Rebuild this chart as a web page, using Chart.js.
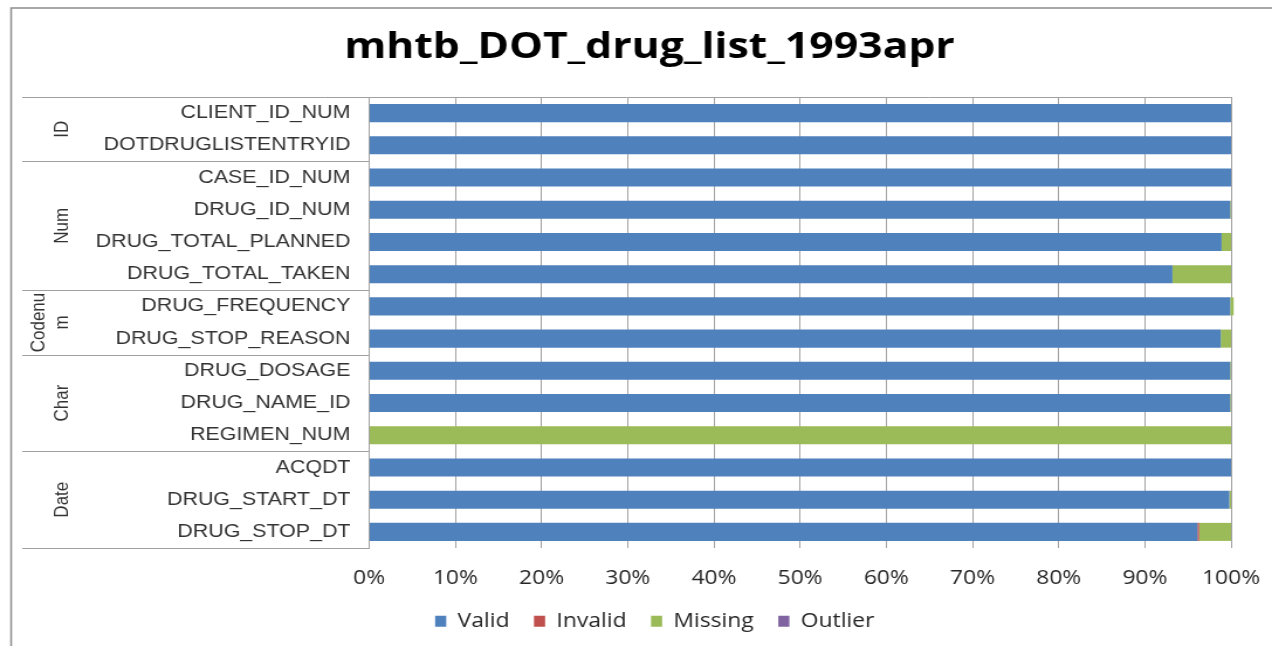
<!DOCTYPE html>
<html>
<head>
<meta charset="utf-8">
<script src="https://cdn.jsdelivr.net/npm/chart.js@4/dist/chart.umd.min.js"></script>
<style>
  html, body { margin: 0; padding: 0; background: #fff; overflow: hidden; }
  #wrap { width: 1272px; height: 646px; overflow: hidden; }
  /* the original export is stretched horizontally, so draw narrow and stretch */
  #qualityChart { transform: scaleX(1.1702); transform-origin: 0 0; }
</style>
</head>
<body>
<div id="wrap"><canvas id="qualityChart" width="1087" height="646"></canvas></div>
<script>
const chartTitle = 'mhtb_DOT_drug_list_1993apr';
const categories = ['CLIENT_ID_NUM', 'DOTDRUGLISTENTRYID', 'CASE_ID_NUM', 'DRUG_ID_NUM',
    'DRUG_TOTAL_PLANNED', 'DRUG_TOTAL_TAKEN', 'DRUG_FREQUENCY', 'DRUG_STOP_REASON',
    'DRUG_DOSAGE', 'DRUG_NAME_ID', 'REGIMEN_NUM', 'ACQDT', 'DRUG_START_DT', 'DRUG_STOP_DT'];
const groupNames = [['ID'], ['Num'], ['Codenu', 'm'], ['Char'], ['Date']];
const groupSizes = [2, 4, 2, 3, 3];

const validPct   = [100, 100, 100, 99.9, 98.9, 93.2, 99.9, 98.8, 99.9, 99.9, 0, 100, 99.8, 96.1];
const invalidPct = [0, 0, 0, 0, 0, 0, 0, 0, 0, 0, 0, 0, 0, 0.2];
const missingPct = [0, 0, 0, 0.1, 1.1, 6.8, 0.4, 1.2, 0.1, 0.1, 100, 0, 0.2, 3.7];
const outlierPct = [0, 0, 0, 0, 0, 0, 0, 0, 0, 0, 0, 0, 0, 0];
const xTicks = [0, 10, 20, 30, 40, 50, 60, 70, 80, 90, 100];

const lineColor = '#a0a0a0';

// draws the frame, the title, the grouped category boxes and the rotated group names
const groupAxis = {
    id: 'groupAxis',
    afterDraw(chart) {
        const ctx = chart.ctx;
        const area = chart.chartArea;
        const yScale = chart.scales.y;
        const boxLeft = 19;
        ctx.save();

        ctx.strokeStyle = '#8c8c8c';
        ctx.lineWidth = 1.5;
        ctx.beginPath();
        ctx.moveTo(9.5, chart.height);
        ctx.lineTo(9.5, 8);
        ctx.lineTo(chart.width, 8);
        ctx.stroke();

        ctx.fillStyle = '#000';
        ctx.font = 'bold 36.5px "Open Sans", Lato, sans-serif';
        ctx.textAlign = 'center';
        ctx.textBaseline = 'middle';
        ctx.fillText(chartTitle, 555, 48);

        ctx.strokeStyle = lineColor;
        ctx.lineWidth = 1;
        ctx.beginPath();
        ctx.moveTo(boxLeft, Math.round(area.top) + 0.5);
        ctx.lineTo(area.right, Math.round(area.top) + 0.5);
        ctx.stroke();

        let start = 0;
        groupSizes.forEach((size, g) => {
            const end = start + size;
            const top = start === 0 ? area.top
                : (yScale.getPixelForValue(start - 1) + yScale.getPixelForValue(start)) / 2;
            const bottom = end === categories.length ? area.bottom
                : (yScale.getPixelForValue(end - 1) + yScale.getPixelForValue(end)) / 2;
            ctx.beginPath();
            ctx.moveTo(boxLeft, Math.round(bottom) + 0.5);
            ctx.lineTo(area.left, Math.round(bottom) + 0.5);
            ctx.stroke();

            const lines = groupNames[g];
            ctx.save();
            ctx.translate(58, (top + bottom) / 2);
            ctx.rotate(-Math.PI / 2);
            ctx.fillStyle = '#333';
            ctx.font = '17px "Liberation Sans", Arial, sans-serif';
            ctx.textAlign = 'center';
            ctx.textBaseline = 'alphabetic';
            lines.forEach((txt, i) => {
                ctx.fillText(txt, 0, -(lines.length - 1 - i) * 19.7);
            });
            ctx.restore();
            start = end;
        });
        ctx.restore();
    }
};

const ctx = document.getElementById('qualityChart').getContext('2d');
const qualityChart = new Chart(ctx, {
    type: 'bar',
    data: {
        labels: categories,
        datasets: [
            { label: 'Valid', data: validPct, backgroundColor: '#4f81bd' },
            { label: 'Invalid', data: invalidPct, backgroundColor: '#c0504d' },
            { label: 'Missing', data: missingPct, backgroundColor: '#9bbb59' },
            { label: 'Outlier', data: outlierPct, backgroundColor: '#8064a2' }
        ]
    },
    options: {
        indexAxis: 'y',
        responsive: false,
        animation: false,
        categoryPercentage: 0.56,
        barPercentage: 1,
        layout: { padding: { left: 67, right: 35, top: 97, bottom: 5 } },
        datasets: { bar: { clip: false } },
        scales: {
            x: {
                stacked: true,
                min: 0,
                max: 100,
                afterBuildTicks: (scale) => { scale.ticks = xTicks.map(v => ({ value: v })); },
                afterFit: (scale) => {
                    scale.height = 42.5;
                    scale.paddingLeft = 0;
                    scale.paddingRight = 0;
                },
                grid: { color: lineColor, drawTicks: false },
                border: { display: false },
                ticks: {
                    callback: (v) => v + '%',
                    color: '#262626',
                    padding: 19,
                    font: { family: '"Open Sans", Lato, sans-serif', size: 19.5 }
                }
            },
            y: {
                stacked: true,
                afterFit: (scale) => { scale.width = 248.5; },
                grid: { display: false },
                border: { color: lineColor },
                ticks: {
                    color: '#333',
                    padding: 8,
                    autoSkip: false,
                    font: { family: '"Liberation Sans", Arial, sans-serif', size: 18.3 }
                }
            }
        },
        plugins: {
            title: { display: false },
            legend: {
                position: 'bottom',
                labels: {
                    boxWidth: 9.5,
                    boxHeight: 11,
                    padding: 21,
                    color: '#262626',
                    font: { family: '"Open Sans", Lato, sans-serif', size: 19.5 }
                }
            },
            tooltip: { enabled: false }
        }
    },
    plugins: [groupAxis]
});
</script>
</body>
</html>
